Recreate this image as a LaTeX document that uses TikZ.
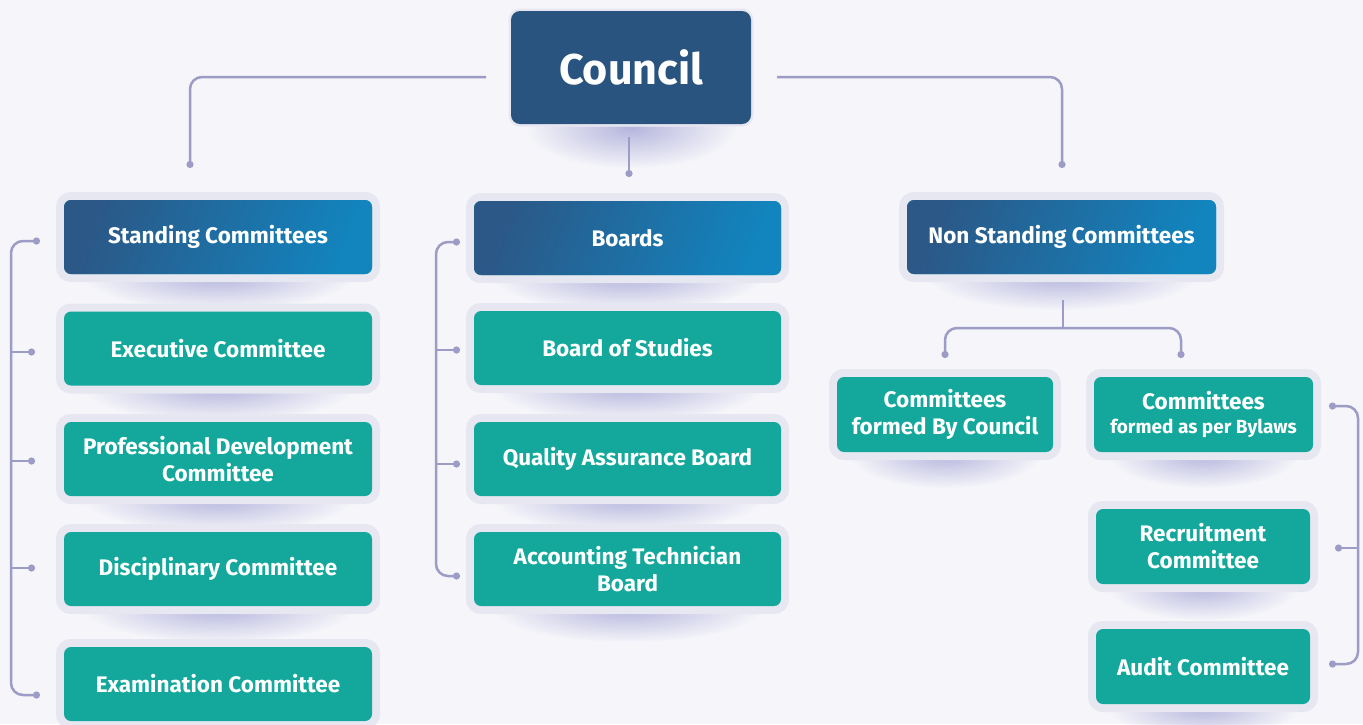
\documentclass[tikz,border=0pt]{standalone}
\usepackage{fontspec}
\setmainfont{Fira Sans}
\usetikzlibrary{arrows.meta,fadings,calc}

\definecolor{pagebg}{HTML}{F5F5FA}
\definecolor{framec}{HTML}{E7E7F1}
\definecolor{boxteal}{HTML}{13A89B}
\definecolor{bluedark}{HTML}{2B5887}
\definecolor{bluelight}{HTML}{1284BE}
\definecolor{councilc}{HTML}{2A5480}
\definecolor{linec}{HTML}{9C9CC6}
\definecolor{glowc}{HTML}{B6B6DE}

\tikzfading[name=softglow, inner color=transparent!0, outer color=transparent!100]

\pgfdeclarelayer{bg}
\pgfdeclarelayer{glow}
\pgfsetlayers{bg,glow,main}

\tikzset{
  card/.style={rounded corners=7pt, fill=boxteal, text=white, align=center,
    inner sep=0pt, minimum width=308pt, minimum height=74pt,
    font=\bfseries\fontsize{22.5}{27}\selectfont,
    preaction={draw=framec, line width=16pt}},
  headcard/.style={card, left color=bluedark, right color=bluelight, shading angle=70},
  smallcard/.style={card, minimum width=216pt, minimum height=75pt},
  conn/.style={draw=linec, line width=2.5pt, rounded corners=12pt},
  dotend/.style={-{Circle[length=7pt]}},
  dotboth/.style={{Circle[length=7pt]}-{Circle[length=7pt]}}
}

\begin{document}
\begin{tikzpicture}[x=1pt, y=-1pt]
  \begin{pgfonlayer}{bg}
    \fill[pagebg] (0,0) rectangle (1363,724);
  \end{pgfonlayer}
  \useasboundingbox (0,0) rectangle (1363,724);

  % top
  \node[rounded corners=9pt, fill=councilc, text=white, inner sep=0pt,
    minimum width=240pt, minimum height=113pt, font=\bfseries\fontsize{43}{48}\selectfont,
    preaction={draw=framec, line width=5pt}] (council) at (631,67.5) {Council};

  % standing committees
  \node[headcard] (std) at (218,237) {Standing Committees};
  \node[card] (exe) at (218,348.5) {Executive Committee};
  \node[card] (pro) at (218,459) {Professional Development\\Committee};
  \node[card] (dis) at (218,569) {Disciplinary Committee};
  \node[card] (exa) at (218,684) {Examination Committee};

  % boards
  \node[headcard, minimum width=307pt] (brd) at (627.5,238) {Boards};
  \node[card, minimum width=307pt] (bos) at (627.5,348) {Board of Studies};
  \node[card, minimum width=307pt] (qab) at (627.5,459) {Quality Assurance Board};
  \node[card, minimum width=307pt] (atb) at (627.5,569) {Accounting Technician\\Board};

  % non standing committees
  \node[headcard, minimum width=309pt] (nsc) at (1061.5,237) {Non Standing Committees};
  \node[smallcard] (cbc) at (945,414.5) {Committees\\formed By Council};
  \node[smallcard, minimum width=219pt] (cbl) at (1203.5,414.5)
    {Committees\\[-3pt]{\fontsize{19}{23}\selectfont formed as per Bylaws}};
  \node[smallcard, minimum width=214pt] (rec) at (1203,546.5) {Recruitment\\Committee};
  \node[smallcard, minimum width=214pt] (aud) at (1203,666.5) {Audit Committee};

  % soft shadows under the cards
  \begin{pgfonlayer}{glow}
    \fill[glowc, path fading=softglow] ($(council.south)+(0,4)$) ellipse [x radius=105pt, y radius=40pt];
    \foreach \n in {std,exe,pro,dis,exa,brd,bos,qab,atb,nsc}
      \fill[glowc, path fading=softglow] ($(\n.south)+(0,2)$) ellipse [x radius=135pt, y radius=34pt];
    \foreach \n in {cbc,cbl,rec,aud}
      \fill[glowc, path fading=softglow] ($(\n.south)+(0,2)$) ellipse [x radius=95pt, y radius=34pt];
  \end{pgfonlayer}

  % council links
  \coordinate (cl) at (486,77);
  \coordinate (cr) at (777,77);
  \coordinate (cm) at (629,137);
  \coordinate (stdin) at (190,168);
  \coordinate (nscin) at (1062,168);
  \coordinate (brdin) at (629,177);
  \draw[conn, dotend] (cl) -| (stdin);
  \draw[conn, dotend] (cr) -| (nscin);
  \draw[conn, dotend] (cm) -- (brdin);

  % non standing split
  \coordinate (ns1) at (1063,300);
  \coordinate (ns2) at (1063,328);
  \coordinate (cbcin) at (945,358);
  \coordinate (cblin) at (1181,358);
  \draw[conn] (ns1) -- (ns2);
  \draw[conn, dotboth] (cbcin) |- (ns2) -| (cblin);

  % left bracket
  \draw[conn, dotboth] (40,241) -- (11,241) -- (11,695) -- (40,695);
  \foreach \y in {352,461,568}
    \draw[conn, dotend] (11,\y) -- (35,\y);

  % middle bracket
  \draw[conn, dotboth] (460,242) -- (436,242) -- (436,576) -- (460,576);
  \foreach \y in {350,464}
    \draw[conn, dotend] (436,\y) -- (460,\y);

  % right bracket
  \draw[conn, dotboth] (1329,406) -- (1358,406) -- (1358,664) -- (1329,664);
  \draw[conn, dotend] (1358,548) -- (1335,548);
\end{tikzpicture}
\end{document}
